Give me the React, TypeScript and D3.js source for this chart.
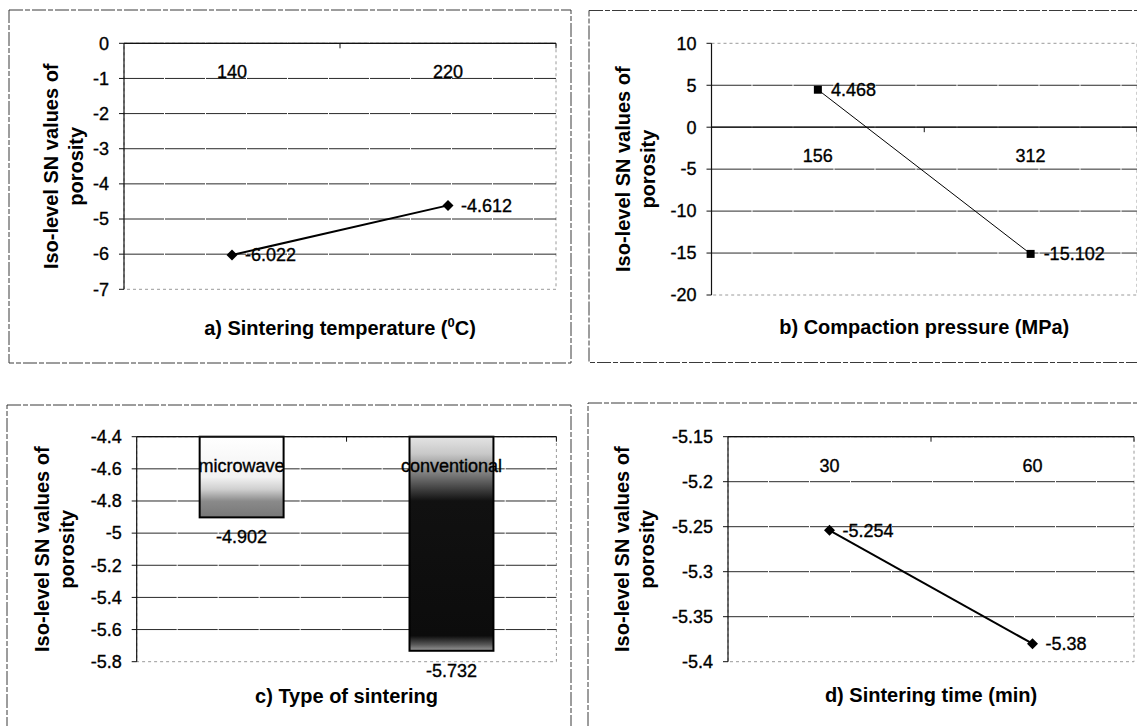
import * as d3 from "d3";

// a) sintering temperature
const tempCats = ["140", "220"];
const tempValues = [-6.022, -4.612];
const tempTicks = [0, -1, -2, -3, -4, -5, -6, -7];

// b) compaction pressure
const pressureCats = ["156", "312"];
const pressureValues = [4.468, -15.102];
const pressureTicks = [10, 5, 0, -5, -10, -15, -20];

// c) type of sintering
const typeCats = ["microwave", "conventional"];
const typeValues = [-4.902, -5.732];
const typeTicks = [-4.4, -4.6, -4.8, -5, -5.2, -5.4, -5.6, -5.8];

// d) sintering time
const timeCats = ["30", "60"];
const timeValues = [-5.254, -5.38];
const timeTicks = [-5.15, -5.2, -5.25, -5.3, -5.35, -5.4];

const yTitleLines = ["Iso-level SN values of", "porosity"];

const FONT = "'Liberation Sans', Arial, Helvetica, sans-serif";

type Box = { x0: number; y0: number; x1: number; y1: number };

type PanelProps = {
  id: string;
  frame: Box;
  plot: Box;
  cats: string[];
  values: number[];
  ticks: number[];
  kind: "line" | "bar";
  marker?: "diamond" | "square";
  lineWidth?: number;
  yTitleX: number;
  titleOffset: number;
  title: React.ReactNode;
  topGrid?: boolean;
};

const fmt = (v: number) => String(+v.toFixed(3));

// scanned text looks a bit heavier than plain regular
const txt = { fontFamily: FONT, fontSize: 18, stroke: "#000", strokeWidth: 0.35 };

function Panel(p: PanelProps) {
  const { plot } = p;
  const lo = d3.min(p.ticks) as number;
  const hi = d3.max(p.ticks) as number;
  const y = d3.scaleLinear().domain([lo, hi]).range([plot.y1, plot.y0]);
  const x = d3.scaleBand().domain(p.cats).range([plot.x0, plot.x1]);
  const cx = (c: string) => (x(c) as number) + x.bandwidth() / 2;
  const cross = Math.min(Math.max(0, lo), hi);
  const axisY = y(cross);
  const midY = (plot.y0 + plot.y1) / 2;
  const midX = (plot.x0 + plot.x1) / 2;

  const line = d3
    .line<number>()
    .x((_, i) => cx(p.cats[i]))
    .y((d) => y(d));

  const barW = x.bandwidth() / 2.5;

  return (
    <g>
      {/* chart frame */}
      <rect
        x={p.frame.x0}
        y={p.frame.y0}
        width={p.frame.x1 - p.frame.x0}
        height={p.frame.y1 - p.frame.y0}
        fill="none"
        stroke="#3a3a3a"
        strokeWidth={1}
        strokeDasharray="14 2 5 2"
      />
      {/* plot area border */}
      <rect
        x={plot.x0}
        y={plot.y0}
        width={plot.x1 - plot.x0}
        height={plot.y1 - plot.y0}
        fill="none"
        stroke="#9a9a9a"
        strokeWidth={1}
        strokeDasharray="3 3"
      />
      {/* gridlines */}
      {p.ticks
        .filter((t) => t !== lo && (p.topGrid !== false || t !== hi))
        .map((t) => (
          <line
            key={"g" + t}
            x1={plot.x0}
            x2={plot.x1}
            y1={y(t)}
            y2={y(t)}
            stroke="#2a2a2a"
            strokeWidth={1}
            strokeDasharray="40 1"
          />
        ))}
      {/* value axis */}
      <line x1={plot.x0} x2={plot.x0} y1={plot.y0} y2={plot.y1} stroke="#111" strokeWidth={1.2} />
      {p.ticks.map((t) => (
        <g key={"t" + t}>
          <line x1={plot.x0 - 5} x2={plot.x0} y1={y(t)} y2={y(t)} stroke="#111" />
          <text x={plot.x0 - 15} y={y(t)} dy="0.35em" textAnchor="end" {...txt}>
            {fmt(t)}
          </text>
        </g>
      ))}
      {/* bars */}
      {p.kind === "bar" &&
        p.values.map((v, i) => (
          <g key={"b" + i}>
            <rect
              x={cx(p.cats[i]) - barW / 2}
              y={axisY}
              width={barW}
              height={y(v) - axisY}
              fill={`url(#${p.id}-grad${i})`}
              stroke="#000"
              strokeWidth={2}
            />
            <text x={cx(p.cats[i])} y={y(v) + 26} textAnchor="middle" {...txt}>
              {fmt(v)}
            </text>
          </g>
        ))}
      {/* category axis */}
      <line x1={plot.x0} x2={plot.x1} y1={axisY} y2={axisY} stroke="#111" strokeWidth={1.2} />
      {x.domain().map((c, i) => (
        <line
          key={"ct" + c}
          x1={plot.x0 + x.step() * (i + 1)}
          x2={plot.x0 + x.step() * (i + 1)}
          y1={axisY}
          y2={axisY + 5}
          stroke="#111"
        />
      ))}
      {p.cats.map((c) => (
        <text key={"c" + c} x={cx(c)} y={axisY + 35} textAnchor="middle" {...txt}>
          {c}
        </text>
      ))}
      {/* line series */}
      {p.kind === "line" && (
        <g>
          <path d={line(p.values) || ""} fill="none" stroke="#000" strokeWidth={p.lineWidth || 2} />
          {p.values.map((v, i) => {
            const px = cx(p.cats[i]);
            const py = y(v);
            return (
              <g key={"m" + i}>
                {p.marker === "square" ? (
                  <rect x={px - 4} y={py - 4} width={8} height={8} fill="#000" />
                ) : (
                  <path
                    d={`M${px},${py - 5.5}L${px + 5.5},${py}L${px},${py + 5.5}L${px - 5.5},${py}Z`}
                    fill="#000"
                  />
                )}
                <text x={px + 13} y={py} dy="0.35em" {...txt}>
                  {fmt(v)}
                </text>
              </g>
            );
          })}
        </g>
      )}
      {/* value axis title */}
      {yTitleLines.map((s, i) => (
        <text
          key={"yt" + i}
          transform={`translate(${p.yTitleX + i * 25},${midY}) rotate(-90)`}
          textAnchor="middle"
          fontSize={20}
          fontWeight="bold"
          fontFamily={FONT}
        >
          {s}
        </text>
      ))}
      {/* category axis title */}
      <text
        x={midX}
        y={plot.y1 + p.titleOffset}
        textAnchor="middle"
        fontSize={20}
        fontWeight="bold"
        fontFamily={FONT}
      >
        {p.title}
      </text>
    </g>
  );
}

export default function App() {
  return (
    <div style={{ position: "absolute", left: 0, top: 0 }}>
      <svg width={1137} height={726} style={{ display: "block", background: "#fff" }}>
        <defs>
          <linearGradient id="c-grad0" x1="0" y1="0" x2="0" y2="1">
            <stop offset="0" stopColor="#ffffff" />
            <stop offset="0.5" stopColor="#f2f2f2" />
            <stop offset="0.65" stopColor="#d0d0d0" />
            <stop offset="0.8" stopColor="#8a8a8a" />
            <stop offset="1" stopColor="#777777" />
          </linearGradient>
          <linearGradient id="c-grad1" x1="0" y1="0" x2="0" y2="1">
            <stop offset="0" stopColor="#e4e4e4" />
            <stop offset="0.08" stopColor="#c8c8c8" />
            <stop offset="0.18" stopColor="#777777" />
            <stop offset="0.3" stopColor="#111111" />
            <stop offset="0.93" stopColor="#0c0c0c" />
            <stop offset="0.97" stopColor="#555555" />
            <stop offset="1" stopColor="#9a9a9a" />
          </linearGradient>
        </defs>
        <Panel
          id="a"
          frame={{ x0: 9, y0: 10, x1: 571, y1: 363 }}
          plot={{ x0: 124, y0: 43.3, x1: 556, y1: 289.3 }}
          cats={tempCats}
          values={tempValues}
          ticks={tempTicks}
          kind="line"
          marker="diamond"
          lineWidth={2}
          yTitleX={58}
          titleOffset={46}
          title={
            <>
              a) Sintering temperature (
              <tspan dy={-8} fontSize={13}>
                0
              </tspan>
              <tspan dy={8}>C)</tspan>
            </>
          }
        />
        <Panel
          id="b"
          frame={{ x0: 589, y0: 10.5, x1: 1160, y1: 362.5 }}
          plot={{ x0: 711.5, y0: 43.3, x1: 1137, y1: 295 }}
          cats={pressureCats}
          values={pressureValues}
          ticks={pressureTicks}
          kind="line"
          marker="square"
          lineWidth={1}
          yTitleX={630}
          titleOffset={39}
          topGrid={false}
          title="b) Compaction pressure (MPa)"
        />
        <Panel
          id="c"
          frame={{ x0: 7, y0: 405, x1: 571, y1: 740 }}
          plot={{ x0: 136.7, y0: 436.7, x1: 556.4, y1: 661.7 }}
          cats={typeCats}
          values={typeValues}
          ticks={typeTicks}
          kind="bar"
          yTitleX={49}
          titleOffset={41}
          title="c) Type of sintering"
        />
        <Panel
          id="d"
          frame={{ x0: 588, y0: 403, x1: 1160, y1: 740 }}
          plot={{ x0: 728, y0: 436.7, x1: 1134, y1: 661.7 }}
          cats={timeCats}
          values={timeValues}
          ticks={timeTicks}
          kind="line"
          marker="diamond"
          lineWidth={2}
          yTitleX={629}
          titleOffset={40}
          title="d) Sintering time (min)"
        />
      </svg>
    </div>
  );
}
